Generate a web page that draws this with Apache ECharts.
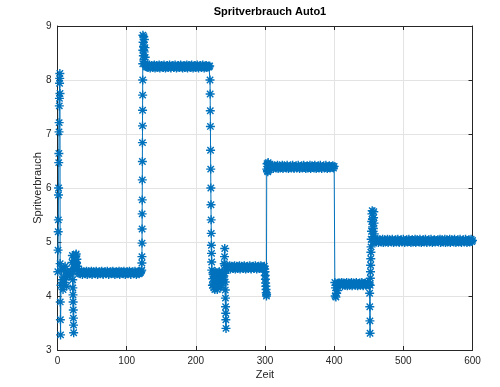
<!DOCTYPE html>
<html>
<head>
<meta charset="utf-8">
<script src="https://cdn.jsdelivr.net/npm/echarts@6/dist/echarts.min.js"></script>
<style>
html,body{margin:0;padding:0;background:#fff;}
#chart{width:500px;height:387px;}
</style>
</head>
<body>
<div id="chart"></div>
<script>
// Zeit / Spritverbrauch pairs, grouped by phase
var titel = 'Spritverbrauch Auto1';
var xName = 'Zeit';
var yName = 'Spritverbrauch';
var xTicks = [0, 100, 200, 300, 400, 500, 600];
var yTicks = [3, 4, 5, 6, 7, 8, 9];

var phaseStart = [[0.5,4.45],[0.8,4.85],[1.0,5.19],[1.2,5.41],[1.4,5.87],[1.6,6.0],[1.8,6.47],[2.0,6.64],[2.2,7.04],[2.4,7.21],[2.6,7.52],[2.8,7.66],[3.0,7.94],[3.2,8.03],[3.4,8.12],[3.6,7.75],[3.8,4.6],[4.0,3.89],[4.2,3.56],[4.4,3.28],[5,4.2],[6,4.5],[7,4.3],[8,4.12],[9,4.48],[10,4.25],[11,4.55],[12,4.35],[13,4.18],[14,4.46],[15,4.38],[16,4.42],[17,4.37],[18,4.4],[19,4.45],[20,4.46],[21,4.62],[21.5,4.75],[22,4.30],[22.2,4.15],[22.4,4.02],[22.6,3.89],[22.8,3.74],[23,3.59],[23.2,3.46],[23.4,3.32],[24,4.5],[24.5,4.66],[25,4.72],[25.5,4.55],[26,4.6],[26.5,4.76],[27,4.78],[27.5,4.62],[28,4.68],[28.5,4.5],[29,4.55],[30,4.45]];

var phase1 = [[31,4.42],[32,4.45],[33,4.41],[34,4.44],[35,4.46],[36,4.40],[37,4.43],[38,4.45],[39,4.42],[40,4.41],[41,4.44],[42,4.46],[43,4.40],[44,4.43],[45,4.45],[46,4.41],[47,4.44],[48,4.42],[49,4.46],[50,4.40],[51,4.43],[52,4.45],[53,4.42],[54,4.44],[55,4.41],[56,4.46],[57,4.43],[58,4.40],[59,4.44],[60,4.42],[61,4.45],[62,4.41],[63,4.43],[64,4.46],[65,4.42],[66,4.40],[67,4.44],[68,4.43],[69,4.45],[70,4.41],[71,4.42],[72,4.46],[73,4.43],[74,4.40],[75,4.44],[76,4.42],[77,4.45],[78,4.41],[79,4.43],[80,4.46],[81,4.42],[82,4.44],[83,4.40],[84,4.43],[85,4.45],[86,4.41],[87,4.44],[88,4.42],[89,4.46],[90,4.40],[91,4.43],[92,4.45],[93,4.42],[94,4.44],[95,4.41],[96,4.46],[97,4.43],[98,4.40],[99,4.44],[100,4.42],[101,4.45],[102,4.41],[103,4.43],[104,4.46],[105,4.42],[106,4.40],[107,4.44],[108,4.43],[109,4.45],[110,4.41],[111,4.42],[112,4.46],[113,4.43],[114,4.40],[115,4.44],[116,4.42],[117,4.45],[118,4.41],[119,4.43],[120,4.44]];

var rise1 = [[121,4.46],[121.8,4.48],[122,4.61],[122.1,4.73],[122.2,4.98],[122.3,5.24],[122.4,5.52],[122.5,5.78],[122.6,6.15],[122.7,6.49],[122.8,6.84],[122.9,7.15],[123,7.44],[123.1,7.72],[123.2,8.0],[123.3,8.3],[123.4,8.55],[123.5,8.83],[123.8,8.7],[124.1,8.45],[124.4,8.62],[124.7,8.8],[125,8.38],[125.3,8.52],[125.6,8.75],[126,8.3],[126.4,8.6],[126.8,8.42],[127.2,8.28],[128,8.25]];

var phase2 = [[129,8.24],[130,8.27],[131,8.23],[132,8.26],[133,8.28],[134,8.22],[135,8.25],[136,8.27],[137,8.24],[138,8.23],[139,8.26],[140,8.28],[141,8.22],[142,8.25],[143,8.27],[144,8.23],[145,8.26],[146,8.24],[147,8.28],[148,8.22],[149,8.25],[150,8.27],[151,8.24],[152,8.26],[153,8.23],[154,8.28],[155,8.25],[156,8.22],[157,8.26],[158,8.24],[159,8.27],[160,8.23],[161,8.25],[162,8.28],[163,8.24],[164,8.22],[165,8.26],[166,8.25],[167,8.27],[168,8.23],[169,8.24],[170,8.28],[171,8.25],[172,8.22],[173,8.26],[174,8.24],[175,8.27],[176,8.23],[177,8.25],[178,8.28],[179,8.24],[180,8.26],[181,8.22],[182,8.25],[183,8.27],[184,8.23],[185,8.26],[186,8.24],[187,8.28],[188,8.22],[189,8.25],[190,8.27],[191,8.24],[192,8.26],[193,8.23],[194,8.28],[195,8.25],[196,8.22],[197,8.26],[198,8.24],[199,8.27],[200,8.23],[201,8.25],[202,8.28],[203,8.24],[204,8.22],[205,8.26],[206,8.25],[207,8.27],[208,8.23],[209,8.24],[210,8.28],[211,8.25],[212,8.22],[213,8.26],[214,8.24],[215,8.27],[216,8.23],[217,8.25],[218,8.26],[219,8.24],[220,8.26]];

var fall2 = [[220.5,8.0],[220.7,7.74],[220.9,7.43],[221.1,7.14],[221.3,6.70],[221.5,6.35],[221.7,6.0],[221.9,5.69],[222.1,5.41],[222.3,5.16],[222.5,4.94],[222.7,4.79],[222.9,4.63],[223.1,4.48],[224,4.2],[224.5,4.32],[225,4.4],[225.5,4.22],[226,4.15],[226.5,4.42],[227,4.35],[227.5,4.12],[228,4.45],[228.5,4.26],[229,4.18],[229.5,4.38],[230,4.3],[230.5,4.2],[231,4.12],[231.5,4.34],[232,4.4],[232.5,4.18],[233,4.25],[233.5,4.44],[234,4.45],[234.5,4.22],[235,4.3],[235.5,4.4],[236,4.16],[236.5,4.28],[237,4.38],[237.5,4.2],[238,4.28],[238.5,4.45],[239,4.42],[239.5,4.3],[240,4.35],[241,4.6],[241.5,4.73],[241.8,4.88],[242,4.57],[242.2,4.42],[242.4,4.26],[242.6,4.11],[242.8,3.96],[243,3.80],[243.2,3.68],[243.4,3.56],[243.6,3.40],[244,4.52]];

var phase3 = [[245,4.52],[246,4.55],[247,4.51],[248,4.54],[249,4.56],[250,4.50],[251,4.53],[252,4.55],[253,4.52],[254,4.51],[255,4.54],[256,4.56],[257,4.50],[258,4.53],[259,4.55],[260,4.51],[261,4.54],[262,4.52],[263,4.56],[264,4.50],[265,4.53],[266,4.55],[267,4.52],[268,4.54],[269,4.51],[270,4.56],[271,4.53],[272,4.50],[273,4.54],[274,4.52],[275,4.55],[276,4.51],[277,4.53],[278,4.56],[279,4.52],[280,4.50],[281,4.54],[282,4.53],[283,4.55],[284,4.51],[285,4.52],[286,4.56],[287,4.53],[288,4.50],[289,4.54],[290,4.52],[291,4.55],[292,4.51],[293,4.53],[294,4.56],[295,4.52],[296,4.54],[297,4.50],[298,4.53],[299,4.55]];

var drop3 = [[299.5,4.5],[300,4.45],[300.3,4.38],[300.6,4.31],[300.9,4.24],[301.2,4.18],[301.5,4.12],[301.8,4.06],[302.1,4.0],[302.3,4.03],[302.5,6.35],[303,6.45],[303.5,6.32],[304,6.3],[304.5,6.47],[305,6.44],[305.5,6.33],[306,6.34]];

var phase4 = [[307,6.38],[308,6.41],[309,6.37],[310,6.40],[311,6.42],[312,6.36],[313,6.39],[314,6.41],[315,6.38],[316,6.37],[317,6.40],[318,6.42],[319,6.36],[320,6.39],[321,6.41],[322,6.37],[323,6.40],[324,6.38],[325,6.42],[326,6.36],[327,6.39],[328,6.41],[329,6.38],[330,6.40],[331,6.37],[332,6.42],[333,6.39],[334,6.36],[335,6.40],[336,6.38],[337,6.41],[338,6.37],[339,6.39],[340,6.42],[341,6.38],[342,6.36],[343,6.40],[344,6.39],[345,6.41],[346,6.37],[347,6.38],[348,6.42],[349,6.39],[350,6.36],[351,6.40],[352,6.38],[353,6.41],[354,6.37],[355,6.39],[356,6.42],[357,6.38],[358,6.40],[359,6.36],[360,6.39],[361,6.41],[362,6.37],[363,6.40],[364,6.38],[365,6.42],[366,6.36],[367,6.39],[368,6.41],[369,6.38],[370,6.40],[371,6.37],[372,6.42],[373,6.39],[374,6.36],[375,6.40],[376,6.38],[377,6.41],[378,6.37],[379,6.39],[380,6.42],[381,6.38],[382,6.36],[383,6.40],[384,6.39],[385,6.41],[386,6.37],[387,6.38],[388,6.42],[389,6.39],[390,6.36],[391,6.40],[392,6.38],[393,6.41],[394,6.37],[395,6.39],[396,6.40],[397,6.38],[398,6.41],[399,6.37],[400,6.40]];

var drop4 = [[401,4.25],[401.5,4.0],[402,4.15],[402.5,3.98],[403,4.2],[403.5,4.05],[404,4.22],[405,4.1],[406,4.24]];

var phase5 = [[407,4.21],[408,4.24],[409,4.20],[410,4.23],[411,4.25],[412,4.19],[413,4.22],[414,4.24],[415,4.21],[416,4.20],[417,4.23],[418,4.25],[419,4.19],[420,4.22],[421,4.24],[422,4.20],[423,4.23],[424,4.21],[425,4.25],[426,4.19],[427,4.22],[428,4.24],[429,4.21],[430,4.23],[431,4.20],[432,4.25],[433,4.22],[434,4.19],[435,4.23],[436,4.21],[437,4.24],[438,4.20],[439,4.22],[440,4.25],[441,4.21],[442,4.19],[443,4.23],[444,4.22],[445,4.24],[446,4.20],[447,4.21],[448,4.25],[449,4.22],[450,4.21]];

var rise5 = [[451,4.22],[451.3,4.05],[451.5,3.80],[451.7,3.54],[451.9,3.31],[452.1,4.2],[452.3,4.33],[452.5,4.45],[452.7,4.57],[452.9,4.69],[453.1,4.81],[453.3,4.91],[453.5,5.05],[454,5.2],[454.3,5.38],[454.6,5.52],[455,5.58],[455.3,5.42],[455.6,5.28],[456,5.1],[456.3,5.0],[456.6,5.25],[457,5.45],[457.3,5.56],[457.6,5.35],[458,5.15],[458.5,5.02]];

var phase6 = [[459,5.01],[460,5.04],[461,5.00],[462,5.03],[463,5.05],[464,4.99],[465,5.02],[466,5.04],[467,5.01],[468,5.00],[469,5.03],[470,5.05],[471,4.99],[472,5.02],[473,5.04],[474,5.00],[475,5.03],[476,5.01],[477,5.05],[478,4.99],[479,5.02],[480,5.04],[481,5.01],[482,5.03],[483,5.00],[484,5.05],[485,5.02],[486,4.99],[487,5.03],[488,5.01],[489,5.04],[490,5.00],[491,5.02],[492,5.05],[493,5.01],[494,4.99],[495,5.03],[496,5.02],[497,5.04],[498,5.00],[499,5.01],[500,5.05],[501,5.02],[502,4.99],[503,5.03],[504,5.01],[505,5.04],[506,5.00],[507,5.02],[508,5.05],[509,5.01],[510,5.03],[511,4.99],[512,5.02],[513,5.04],[514,5.00],[515,5.03],[516,5.01],[517,5.05],[518,4.99],[519,5.02],[520,5.04],[521,5.01],[522,5.03],[523,5.00],[524,5.05],[525,5.02],[526,4.99],[527,5.03],[528,5.01],[529,5.04],[530,5.00],[531,5.02],[532,5.05],[533,5.01],[534,4.99],[535,5.03],[536,5.02],[537,5.04],[538,5.00],[539,5.01],[540,5.05],[541,5.02],[542,4.99],[543,5.03],[544,5.01],[545,5.04],[546,5.00],[547,5.02],[548,5.03],[549,5.01],[550,5.04],[551,5.00],[552,5.03],[553,5.05],[554,4.99],[555,5.02],[556,5.04],[557,5.01],[558,5.00],[559,5.03],[560,5.05],[561,4.99],[562,5.02],[563,5.04],[564,5.00],[565,5.03],[566,5.01],[567,5.05],[568,4.99],[569,5.02],[570,5.04],[571,5.01],[572,5.03],[573,5.00],[574,5.05],[575,5.02],[576,4.99],[577,5.03],[578,5.01],[579,5.04],[580,5.00],[581,5.02],[582,5.05],[583,5.01],[584,4.99],[585,5.03],[586,5.02],[587,5.04],[588,5.00],[589,5.01],[590,5.05],[591,5.02],[592,4.99],[593,5.03],[594,5.01],[595,5.04],[596,5.00],[597,5.02],[598,5.05],[599,5.01],[600,5.03]];

var messwerte = [].concat(phaseStart, phase1, rise1, phase2, fall2, phase3, drop3, phase4, drop4, phase5, rise5, phase6);

var blue = '#0072BD';
var axisCol = '#262626';
var fontFam = '"Liberation Sans", Arial, Helvetica, sans-serif';
var star = 'path://M5,0L5,10M0,5L10,5M1.46,1.46L8.54,8.54M1.46,8.54L8.54,1.46';

var chart = echarts.init(document.getElementById('chart'), null, {renderer: 'canvas'});

function xAx(pos, show) {
  return {
    type: 'value', position: pos, min: xTicks[0], max: xTicks[xTicks.length - 1], interval: 100,
    name: show ? xName : '', nameLocation: 'middle', nameGap: 19, nameMoveOverlap: false,
    nameTextStyle: {color: axisCol, fontSize: 11, fontFamily: fontFam},
    axisLine: {show: true, onZero: false, lineStyle: {color: axisCol, width: 1}},
    axisTick: {show: true, inside: true, length: 4, lineStyle: {color: axisCol}},
    axisLabel: {show: show, color: axisCol, fontSize: 10, fontFamily: fontFam, margin: 6},
    splitLine: {show: show, lineStyle: {color: '#e3e3e3', width: 1}}
  };
}
function yAx(pos, show) {
  return {
    type: 'value', position: pos, min: yTicks[0], max: yTicks[yTicks.length - 1], interval: 1,
    name: show ? yName : '', nameLocation: 'middle', nameGap: 14, nameMoveOverlap: false,
    nameTextStyle: {color: axisCol, fontSize: 11, fontFamily: fontFam},
    axisLine: {show: true, onZero: false, lineStyle: {color: axisCol, width: 1}},
    axisTick: {show: true, inside: true, length: 4, lineStyle: {color: axisCol}},
    axisLabel: {show: show, color: axisCol, fontSize: 10, fontFamily: fontFam, margin: 6},
    splitLine: {show: show, lineStyle: {color: '#e3e3e3', width: 1}}
  };
}

chart.setOption({
  animation: false,
  backgroundColor: '#ffffff',
  title: {
    text: titel, left: 265, top: 1, textAlign: 'center',
    textStyle: {fontSize: 11, fontWeight: 'bold', color: '#000', fontFamily: fontFam}
  },
  grid: {left: 57.5, right: 27.5, top: 26, bottom: 37, containLabel: false},
  xAxis: [xAx('bottom', true), xAx('top', false)],
  yAxis: [yAx('left', true), yAx('right', false)],
  series: [{
    type: 'line',
    data: messwerte,
    xAxisIndex: 0, yAxisIndex: 0,
    showSymbol: true, showAllSymbol: true,
    symbol: star, symbolSize: 9,
    lineStyle: {color: blue, width: 1},
    itemStyle: {color: blue, borderColor: blue, borderWidth: 1.4},
    emphasis: {disabled: true},
    clip: false
  }]
});
</script>
</body>
</html>
